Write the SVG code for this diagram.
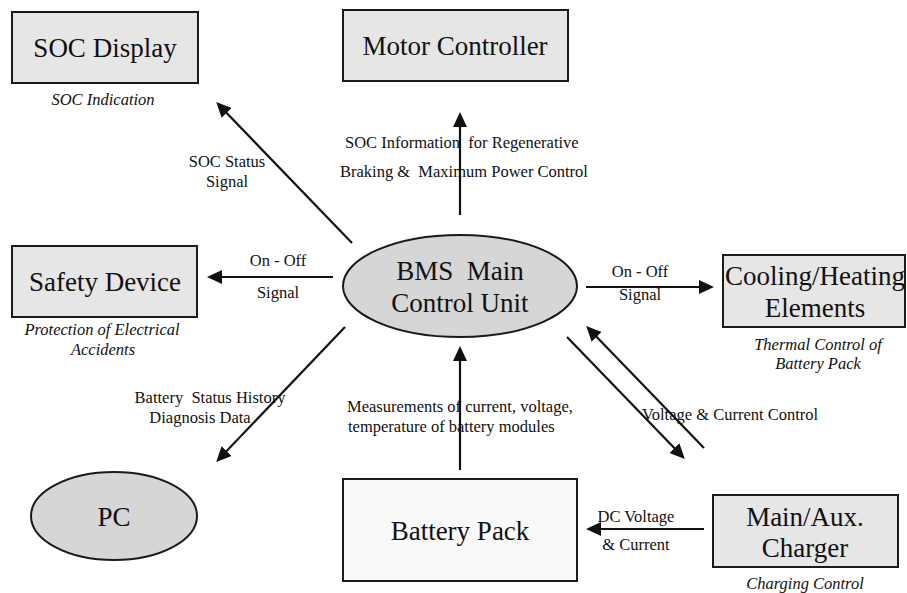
<svg xmlns="http://www.w3.org/2000/svg" width="907" height="593" viewBox="0 0 907 593">
  <style>
    .box { fill: #e6e6e6; stroke: #1a1a1a; stroke-width: 2; }
    .plain { fill: #f9f9f9; stroke: #1a1a1a; stroke-width: 2; }
    .oval { fill: #d6d6d6; stroke: #1a1a1a; stroke-width: 2; }
    .title { font-family: "Liberation Serif", "Times New Roman", serif; font-size: 27px; fill: #111; text-anchor: middle; }
    .note { font-family: "Liberation Serif", "Times New Roman", serif; font-size: 16.5px; font-style: italic; fill: #111; text-anchor: middle; }
    .label { font-family: "Liberation Serif", "Times New Roman", serif; font-size: 16.5px; fill: #111; }
    .mid { text-anchor: middle; }
    .wire { stroke: #111; stroke-width: 2.2; fill: none; marker-end: url(#head); }
  </style>
  <defs>
    <marker id="head" markerUnits="userSpaceOnUse" markerWidth="16" markerHeight="14" refX="11" refY="7" orient="auto">
      <path d="M0,0 L15,7 L0,14 z" fill="#111"/>
    </marker>
  </defs>
  <rect width="907" height="593" fill="#ffffff"/>

  <!-- connectors and their captions -->
  <g id="connectors">
    <line class="wire" x1="352" y1="243" x2="219" y2="105"/>
    <line class="wire" x1="460" y1="215" x2="460" y2="116"/>
    <line class="wire" x1="333" y1="277" x2="211" y2="277"/>
    <line class="wire" x1="586" y1="287" x2="710" y2="287"/>
    <line class="wire" x1="345" y1="327" x2="219" y2="459"/>
    <line class="wire" x1="460" y1="470" x2="460" y2="350"/>
    <line class="wire" x1="567" y1="337" x2="682" y2="456"/>
    <line class="wire" x1="704" y1="448" x2="589" y2="329"/>
    <line class="wire" x1="704" y1="529" x2="590" y2="529"/>

    <text class="label mid" x="227" y="167">SOC Status</text>
    <text class="label mid" x="227" y="187">Signal</text>
    <text class="label" x="345" y="148" xml:space="preserve">SOC Information  for Regenerative</text>
    <text class="label" x="340" y="177" xml:space="preserve">Braking &amp;  Maximum Power Control</text>
    <text class="label mid" x="278" y="266">On - Off</text>
    <text class="label mid" x="278" y="298">Signal</text>
    <text class="label mid" x="640" y="277">On - Off</text>
    <text class="label mid" x="640" y="300">Signal</text>
    <text class="label mid" x="210" y="403" xml:space="preserve">Battery  Status History</text>
    <text class="label mid" x="200" y="423">Diagnosis Data</text>
    <text class="label" x="347" y="412">Measurements of current, voltage,</text>
    <text class="label" x="348" y="432">temperature of battery modules</text>
    <text class="label" x="642" y="420">Voltage &amp; Current Control</text>
    <text class="label mid" x="636" y="522">DC Voltage</text>
    <text class="label mid" x="636" y="550">&amp; Current</text>
  </g>

  <g id="soc-display">
    <rect class="box" x="12" y="12" width="186" height="71"/>
    <text class="title" x="105" y="57">SOC Display</text>
    <text class="note" x="103" y="105">SOC Indication</text>
  </g>

  <g id="motor-controller">
    <rect class="box" x="343" y="10" width="225" height="71"/>
    <text class="title" x="455" y="55">Motor Controller</text>
  </g>

  <g id="safety-device">
    <rect class="box" x="12" y="246" width="185" height="71"/>
    <text class="title" x="105" y="291">Safety Device</text>
    <text class="note" x="102" y="335">Protection of Electrical</text>
    <text class="note" x="103" y="355">Accidents</text>
  </g>

  <g id="bms-main">
    <ellipse class="oval" cx="460" cy="286" rx="117" ry="51"/>
    <text class="title" x="460" y="280" xml:space="preserve">BMS  Main</text>
    <text class="title" x="460" y="312">Control Unit</text>
  </g>

  <g id="cooling-heating">
    <rect class="box" x="723" y="255" width="182" height="72"/>
    <text class="title" x="815" y="285">Cooling/Heating</text>
    <text class="title" x="815" y="317">Elements</text>
    <text class="note" x="818" y="350">Thermal Control of</text>
    <text class="note" x="818" y="369">Battery Pack</text>
  </g>

  <g id="pc">
    <ellipse class="oval" cx="114" cy="516" rx="83" ry="44"/>
    <text class="title" x="114" y="526">PC</text>
  </g>

  <g id="battery-pack">
    <rect class="plain" x="343" y="479" width="234" height="102"/>
    <text class="title" x="460" y="540">Battery Pack</text>
  </g>

  <g id="charger">
    <rect class="box" x="713" y="495" width="185" height="72"/>
    <text class="title" x="805" y="526">Main/Aux.</text>
    <text class="title" x="805" y="557">Charger</text>
    <text class="note" x="805" y="589">Charging Control</text>
  </g>
</svg>
